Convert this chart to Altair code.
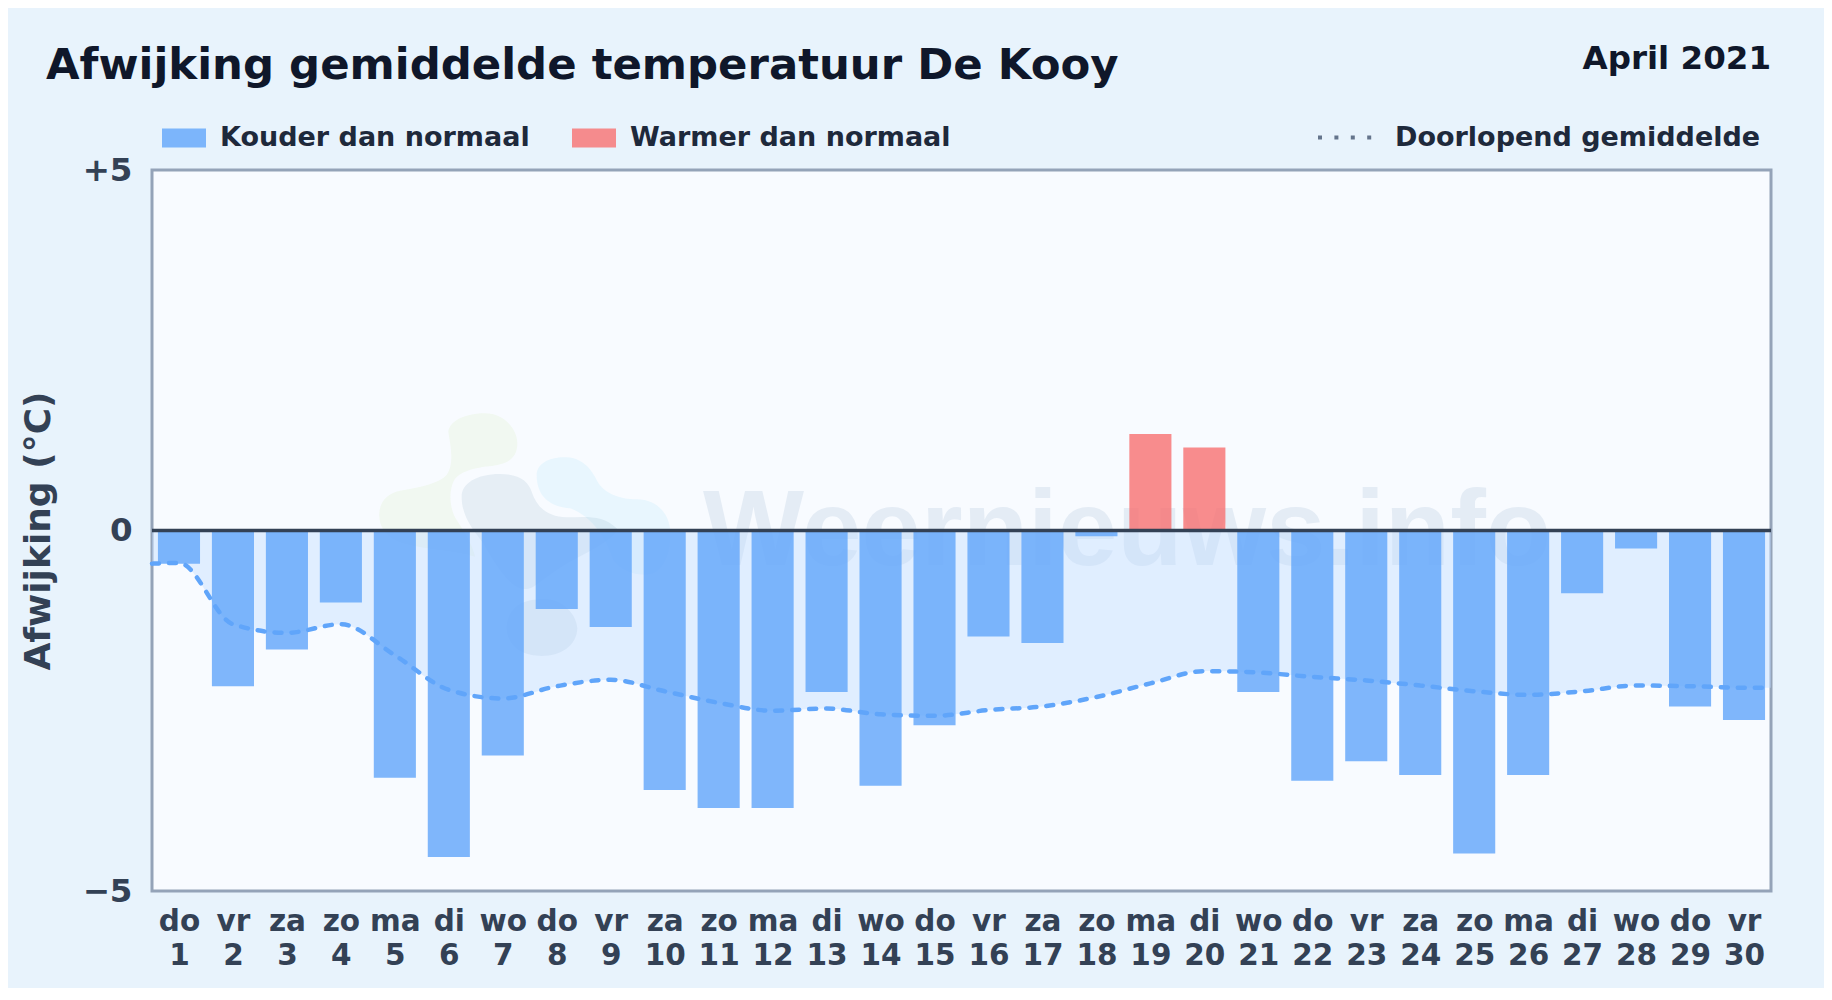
import altair as alt
import pandas as pd

TITLE = "Afwijking gemiddelde temperatuur De Kooy"
PERIOD = "April 2021"
WATERMARK = "Weernieuws.info"
COLD = "Kouder dan normaal"
WARM = "Warmer dan normaal"
RUNNING = "Doorlopend gemiddelde"
Y_TITLE = "Afwijking (°C)"

DAYS = list(range(1, 31))
DAY_NAMES = ["do","vr","za","zo","ma","di","wo","do","vr","za","zo","ma","di","wo","do",
             "vr","za","zo","ma","di","wo","do","vr","za","zo","ma","di","wo","do","vr"]
ANOMALY = [-0.46,-2.16,-1.65,-1.00,-3.43,-4.53,-3.12,-1.09,-1.34,-3.60,-3.85,-3.85,-2.24,-3.54,-2.70,
           -1.47,-1.56,-0.08,1.34,1.15,-2.24,-3.47,-3.20,-3.39,-4.48,-3.39,-0.87,-0.25,-2.44,-2.63]
RUN_X = [0.5] + DAYS + [30.5]
RUN_Y = [-0.46,-0.45,-1.30,-1.42,-1.30,-1.73,-2.21,-2.33,-2.16,-2.07,-2.23,-2.39,-2.50,-2.47,-2.55,-2.57,
         -2.49,-2.44,-2.31,-2.12,-1.95,-1.97,-2.03,-2.08,-2.15,-2.23,-2.28,-2.23,-2.15,-2.16,-2.18,-2.18]

FONT = "DejaVu Sans"
W, H = 1619, 721

bars = pd.DataFrame({"day": DAYS, "value": ANOMALY,
                     "kind": [WARM if v > 0 else COLD for v in ANOMALY]})
run = pd.DataFrame({"day": RUN_X, "value": RUN_Y, "series": RUNNING})

x_scale = alt.Scale(domain=[0.5, 30.5], nice=False, zero=False)
y_scale = alt.Scale(domain=[-5, 5], nice=False)

names_js = "[" + ",".join(f"'{n}'" for n in DAY_NAMES) + "]"
x_axis = alt.Axis(values=DAYS, title=None, domain=False, ticks=False, grid=False,
                  labelExpr=f"[{names_js}[datum.value-1], '' + datum.value]",
                  labelFont=FONT, labelFontWeight="bold", labelFontSize=29.5, labelColor="#334155",
                  labelPadding=16, labelLineHeight=34, labelOverlap=False, labelBound=False, labelFlush=False)
y_axis = alt.Axis(values=[-5, 0, 5], title=Y_TITLE, domain=False, ticks=False, grid=False,
                  labelExpr="datum.value > 0 ? '+' + datum.value : datum.value < 0 ? '−' + abs(datum.value) : '0'",
                  labelFont=FONT, labelFontWeight="bold", labelFontSize=32.5, labelColor="#334155",
                  labelPadding=20, labelOverlap=False, labelBound=False, labelFlush=False,
                  titleFont=FONT, titleFontWeight="bold", titleFontSize=36, titleColor="#334155",
                  titleX=-114, titleY=H / 2, titleAnchor="middle", titleAngle=270, titleBaseline="middle")


def blob(path, color, opacity):
    return alt.Chart(pd.DataFrame({"a": [0]})).mark_point(
        shape=path, size=4 / 9, filled=True, fill=color, fillOpacity=opacity, strokeWidth=0, opacity=1,
    ).encode(x=alt.value(208), y=alt.value(230))


G = ("M265,95 C270,60 320,40 375,40 C430,40 472,85 472,130 C472,170 450,190 400,197 C340,203 295,215 280,245 "
     "C265,280 270,330 290,360 C310,390 340,440 345,470 C280,450 200,450 130,430 C80,415 55,380 58,340 "
     "C60,300 85,280 120,272 C190,260 235,250 260,225 C285,190 270,130 265,95 Z")
S = ("M305,290 C305,250 350,222 420,222 C480,222 505,245 515,275 C530,320 560,350 620,352 C680,350 730,345 770,385 "
     "C780,400 720,440 640,480 C600,500 550,540 520,560 C470,590 420,520 370,430 C340,390 305,350 305,290 Z")
B = ("M530,225 C530,190 570,170 620,172 C670,175 695,210 710,240 C730,280 780,298 830,298 C890,298 925,340 930,385 "
     "C935,440 920,500 880,520 C840,530 790,520 760,480 C740,420 700,350 630,325 C570,320 530,290 530,225 Z")
L = ("M440,680 C445,620 490,600 540,598 C600,590 650,640 652,685 C650,740 600,768 545,768 C490,768 440,740 440,680 Z")

logo = [blob(G, "#84cc16", 0.06), blob(S, "#1e5a7f", 0.08), blob(B, "#38bdf8", 0.08), blob(L, "#1e5a7f", 0.09)]

watermark = alt.Chart(pd.DataFrame({"t": [WATERMARK]})).mark_text(
    font="Liberation Sans", fontWeight="bold", fontSize=107, color="#3b6ea5", opacity=0.1,
    align="left", baseline="alphabetic",
).encode(text="t:N", x=alt.value(551), y=alt.value(395))

area = alt.Chart(run).mark_area(color="#bfdbfe", opacity=0.42, interpolate="monotone").encode(
    x=alt.X("day:Q", scale=x_scale, axis=x_axis),
    y=alt.Y("value:Q", scale=y_scale, axis=y_axis),
    y2=alt.datum(0),
)

swatch = "M-1,-0.43H1V0.43H-1Z"
bar_layer = alt.Chart(bars).transform_calculate(lo="datum.day-0.39", hi="datum.day+0.39").mark_bar(opacity=0.8).encode(
    x=alt.X("lo:Q", scale=x_scale),
    x2="hi:Q",
    y=alt.Y("value:Q", scale=y_scale),
    y2=alt.datum(0),
    fill=alt.Fill("kind:N", scale=alt.Scale(domain=[COLD, WARM], range=["#60a5fa", "#f87171"]),
                  legend=alt.Legend(title=None, orient="none", legendX=10, legendY=-54, direction="horizontal",
                                    columns=2, columnPadding=42, symbolType=swatch, symbolSize=1936,
                                    symbolOpacity=0.8, symbolStrokeWidth=0, labelOffset=14,
                                    labelFont=FONT, labelFontWeight="bold", labelFontSize=27, labelColor="#1e293b",
                                    labelLimit=500)),
)

line = alt.Chart(run).mark_line(stroke="#60a5fa", strokeWidth=4.5, strokeDash=[7, 10], strokeCap="round",
                                interpolate="monotone").encode(
    x=alt.X("day:Q", scale=x_scale),
    y=alt.Y("value:Q", scale=y_scale),
)

# Invisible layer that only carries the legend entry with its slate dotted key.
line_key = alt.Chart(run).mark_line(opacity=0, strokeWidth=4).encode(
    x=alt.X("day:Q", scale=x_scale),
    y=alt.Y("value:Q", scale=y_scale),
    stroke=alt.Stroke("series:N", scale=alt.Scale(domain=[RUNNING], range=["#64748b"]),
                      legend=alt.Legend(title=None, orient="none", legendX=1164, legendY=-62,
                                        symbolType="stroke", symbolSize=3025, symbolDash=[4, 12.4],
                                        symbolOpacity=1, symbolStrokeWidth=4, labelOffset=20,
                                        labelFont=FONT, labelFontWeight="bold", labelFontSize=27, labelColor="#1e293b",
                                        labelLimit=500)),
)

zero = alt.Chart(pd.DataFrame({"z": [0]})).mark_rule(color="#334155", strokeWidth=3.5).encode(
    y=alt.Y("z:Q", scale=y_scale)
)

title = alt.Chart(pd.DataFrame({"t": [TITLE]})).mark_text(
    font=FONT, fontWeight="bold", fontSize=43.4, color="#0f172a", align="left", baseline="alphabetic",
).encode(text="t:N", x=alt.value(-106), y=alt.value(-91))

period = alt.Chart(pd.DataFrame({"t": [PERIOD]})).mark_text(
    font=FONT, fontWeight="bold", fontSize=32.5, color="#0f172a", align="right", baseline="alphabetic",
).encode(text="t:N", x=alt.value(W), y=alt.value(-101))

chart = alt.layer(*logo, watermark, area, bar_layer, line, line_key, zero, title, period).resolve_scale(
    stroke="independent", fill="independent"
).properties(
    width=W, height=H,
    padding={"left": 144, "top": 162, "right": 53, "bottom": 97},
    autosize=alt.AutoSizeParams(type="none"),
    background="#e8f3fc",
).configure_view(fill="#f8fbff", stroke="#94a3b8", strokeWidth=3)

chart.save("out.html", embed_options={"renderer": "svg", "actions": False})
